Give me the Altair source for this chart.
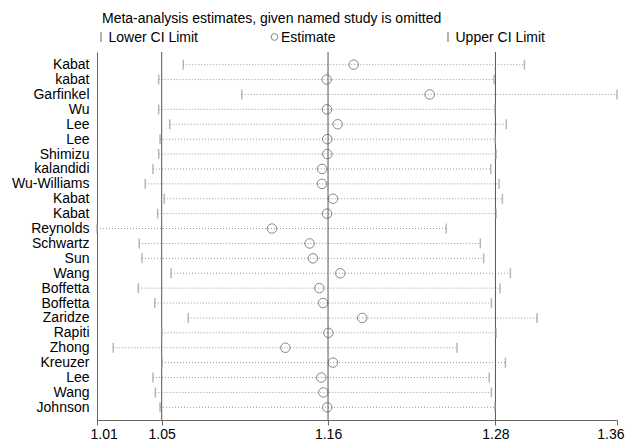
import json
import altair as alt
import pandas as pd

studies = ["Kabat", "kabat", "Garfinkel", "Wu", "Lee", "Lee", "Shimizu", "kalandidi",
           "Wu-Williams", "Kabat", "Kabat", "Reynolds", "Schwartz", "Sun", "Wang",
           "Boffetta", "Boffetta", "Zaridze", "Rapiti", "Zhong", "Kreuzer", "Lee",
           "Wang", "Johnson"]
estimate = [1.1813, 1.1634, 1.2317, 1.1636, 1.1707, 1.1638, 1.1638, 1.1603, 1.1603,
            1.1676, 1.1636, 1.1271, 1.1521, 1.1543, 1.1724, 1.1585, 1.1610, 1.1870,
            1.1645, 1.1360, 1.1676, 1.1598, 1.1612, 1.1638]
lower = [1.0683, 1.0520, 1.1071, 1.0520, 1.0593, 1.0529, 1.0520, 1.0482, 1.0431,
         1.0557, 1.0513, 1.0111, 1.0391, 1.0409, 1.0602, 1.0385, 1.0494, 1.0716,
         1.0540, 1.0219, 1.0542, 1.0482, 1.0498, 1.0529]
upper = [1.2945, 1.2744, 1.3559, 1.2750, 1.2825, 1.2752, 1.2757, 1.2722, 1.2777,
         1.2799, 1.2757, 1.2427, 1.2653, 1.2675, 1.2852, 1.2783, 1.2726, 1.3029,
         1.2757, 1.2498, 1.2819, 1.2712, 1.2726, 1.2750]
overall = [1.0540, 1.1643, 1.2753]
axis_ticks = [1.0111, 1.0540, 1.1643, 1.2753, 1.3559]

df = pd.DataFrame({"idx": list(range(len(studies))), "study": studies,
                   "est": estimate, "lo": lower, "hi": upper})
ov = pd.DataFrame({"v": overall})
one = pd.DataFrame({"a": [0]})

FONT = "Liberation Sans"
xscale = alt.Scale(domain=[axis_ticks[0], axis_ticks[-1]], nice=False, zero=False)
label_expr = json.dumps(studies) + "[datum.value]"

xenc = alt.X("lo:Q", scale=xscale,
             axis=alt.Axis(values=axis_ticks, format=".2f", title=None, grid=False,
                           domainColor="#666", tickColor="#666", tickSize=5,
                           labelFontSize=14, labelColor="#000", labelPadding=2,
                           labelFlush=True, labelFlushOffset=7,
                           labelFont=FONT))
yenc = alt.Y("idx:O", scale=alt.Scale(type="point", padding=0.85),
             axis=alt.Axis(labelExpr=label_expr, title=None, ticks=False,
                           domainColor="#666", labelFontSize=14, labelColor="#000",
                           labelPadding=8, labelFont=FONT))

base = alt.Chart(df)

dots = base.mark_rule(strokeDash=[1, 2], color="#999", strokeWidth=1).encode(
    x=xenc, x2="hi:Q", y=yenc)
lo_tick = base.mark_tick(color="#999", thickness=1.5, size=10).encode(
    x=alt.X("lo:Q", scale=xscale), y=alt.Y("idx:O"))
hi_tick = base.mark_tick(color="#999", thickness=1.5, size=10).encode(
    x=alt.X("hi:Q", scale=xscale), y=alt.Y("idx:O"))
vlines = alt.Chart(ov).mark_rule(color="#555", strokeWidth=1).encode(
    x=alt.X("v:Q", scale=xscale))
pts = base.mark_point(shape="circle", filled=False, size=90, color="#555",
                      strokeWidth=1).encode(
    x=alt.X("est:Q", scale=xscale), y=alt.Y("idx:O"))

ann = alt.Chart(one)
title_t = ann.mark_text(align="left", baseline="alphabetic", fontSize=14, font=FONT,
                        color="#000").encode(
    x=alt.value(5), y=alt.value(-29),
    text=alt.value("Meta-analysis estimates, given named study is omitted"))
bar1 = ann.mark_rule(color="#999", strokeWidth=1.5).encode(
    x=alt.value(4), y=alt.value(-20), y2=alt.value(-10))
txt1 = ann.mark_text(align="left", baseline="alphabetic", fontSize=14, font=FONT,
                     color="#000").encode(
    x=alt.value(11.5), y=alt.value(-10), text=alt.value("Lower CI Limit"))
circ = ann.mark_point(shape="circle", filled=False, size=45, color="#555",
                      strokeWidth=1).encode(x=alt.value(177.5), y=alt.value(-15))
txt2 = ann.mark_text(align="left", baseline="alphabetic", fontSize=14, font=FONT,
                     color="#000").encode(
    x=alt.value(184), y=alt.value(-10), text=alt.value("Estimate"))
bar2 = ann.mark_rule(color="#999", strokeWidth=1.5).encode(
    x=alt.value(351), y=alt.value(-20), y2=alt.value(-10))
txt3 = ann.mark_text(align="left", baseline="alphabetic", fontSize=14, font=FONT,
                     color="#000").encode(
    x=alt.value(358.5), y=alt.value(-10), text=alt.value("Upper CI Limit"))

chart = alt.layer(dots, vlines, lo_tick, hi_tick, pts,
                  title_t, bar1, txt1, circ, txt2, bar2, txt3).properties(
    width=520, height=368,
    autosize=alt.AutoSizeParams(type="none"),
    padding={"left": 89, "top": 44, "right": 10, "bottom": 21},
).configure(font=FONT).configure_view(stroke=None)

chart.save("out.html", embed_options={"renderer": "svg", "actions": False})
